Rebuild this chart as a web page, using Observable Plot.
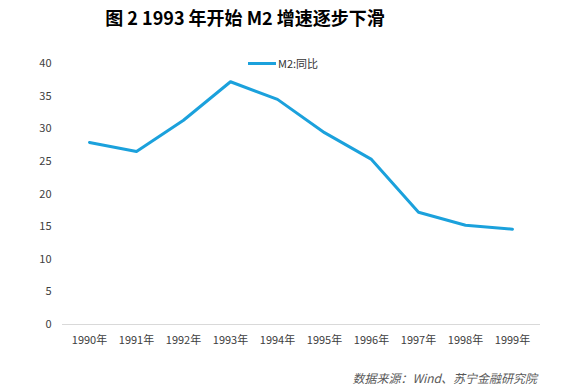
<!DOCTYPE html>
<html><head><meta charset="utf-8">
<script src="https://cdn.jsdelivr.net/npm/d3@7"></script>
<script src="https://cdn.jsdelivr.net/npm/@observablehq/plot@0.6"></script>
<style>
body{margin:0;background:#fff;font-family:"Noto Sans CJK SC","Microsoft YaHei",sans-serif;}
#wrap{position:relative;width:565px;height:390px;}
#title{position:absolute;left:0;top:4px;width:490px;text-align:center;font-size:18px;font-weight:bold;color:#000;font-family:"Noto Sans CJK SC",sans-serif;}
#legend{position:absolute;left:248px;top:55px;font-size:11px;color:#333;display:flex;align-items:center;}
#legend span.sw{display:inline-block;width:28px;height:3px;background:#1ba1dc;margin-right:2px;}
#chart{position:absolute;left:0;top:40px;}
#cap{position:absolute;right:28px;top:369px;font-size:12px;font-style:italic;color:#595959;}
</style></head>
<body><div id="wrap">
<div id="title">图 2 1993 年开始 M2 增速逐步下滑</div>
<div id="chart"></div>
<div id="legend"><span class="sw"></span>M2:同比</div>
<div id="cap">数据来源：Wind、苏宁金融研究院</div>
</div>
<script>
const years = ["1990年","1991年","1992年","1993年","1994年","1995年","1996年","1997年","1998年","1999年"];
const m2 = [27.9, 26.5, 31.3, 37.2, 34.5, 29.4, 25.3, 17.2, 15.2, 14.6];
const yTicks = [0,5,10,15,20,25,30,35,40];
const data = years.map((y,i)=>({year:y, v:m2[i]}));
const chart = Plot.plot({
  width:565, height:320,
  marginTop:23, marginBottom:36, marginLeft:62, marginRight:25,
  style:{fontSize:"11px", fontFamily:"'Noto Sans CJK SC',sans-serif", color:"#404040", background:"transparent"},
  x:{type:"band", domain:years, label:null, tickSize:0, tickPadding:12},
  y:{domain:[0,40], ticks:yTicks, label:null, tickSize:0, tickPadding:11},
  marks:[
    Plot.ruleY([0],{stroke:"#d9d9d9", strokeWidth:1}),
    Plot.lineY(data,{x:"year", y:"v", stroke:"#1ba1dc", strokeWidth:3})
  ]
});
document.getElementById("chart").appendChild(chart);
</script>
</body></html>
